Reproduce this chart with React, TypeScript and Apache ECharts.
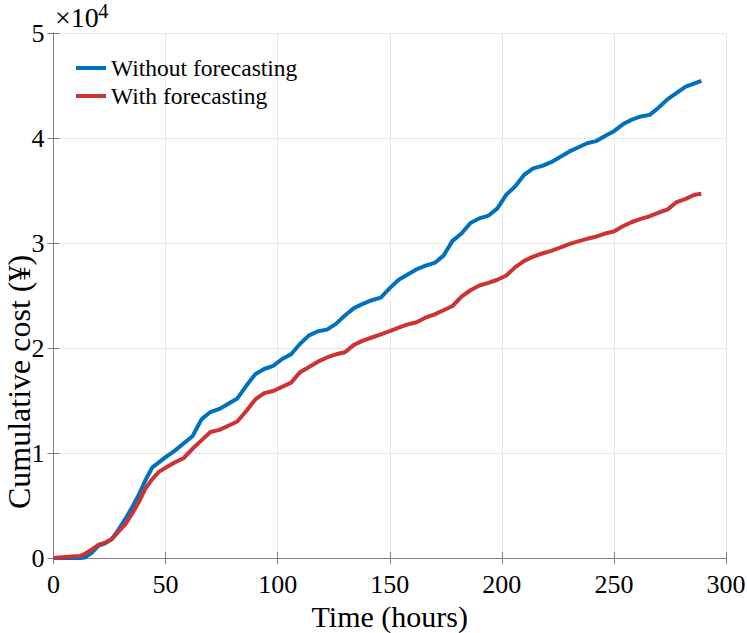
import React, { useEffect, useRef } from "react";
import * as echarts from "echarts";

const hours = [0,4,8,12,14,17,20,23,26,29,32,35,38,41,44,47,50,54,58,62,66,70,74,78,82,86,90,94,98,102,106,110,114,118,122,126,130,134,138,142,146,150,154,158,162,166,170,174,178,182,186,190,194,198,202,206,210,214,218,222,226,230,234,238,242,246,250,254,258,262,266,270,274,278,282,286,289];

const withoutForecasting = [0,0,0,0,50,500,1150,1400,1800,2700,3700,4800,6000,7400,8600,9100,9600,10200,10900,11600,13200,13900,14200,14700,15200,16400,17500,18000,18300,18950,19400,20400,21200,21600,21750,22300,23100,23800,24200,24550,24800,25700,26500,27000,27500,27850,28100,28800,30200,30900,31900,32350,32600,33300,34600,35400,36500,37100,37350,37700,38200,38700,39100,39500,39700,40200,40650,41300,41750,42050,42200,42900,43700,44300,44900,45200,45450];

const withForecasting = [0,80,150,200,400,800,1250,1450,1800,2500,3200,4200,5300,6600,7500,8200,8600,9100,9500,10400,11200,12000,12200,12600,13000,14000,15100,15700,15900,16300,16700,17700,18200,18700,19100,19400,19600,20300,20700,21000,21300,21600,21950,22250,22450,22900,23200,23600,24000,24900,25500,25950,26200,26500,26900,27700,28300,28700,29000,29250,29550,29900,30150,30400,30600,30900,31100,31600,32000,32300,32550,32900,33200,33900,34200,34600,34700];

const seriesNames = ["Without forecasting", "With forecasting"];
const xTicks = [0, 50, 100, 150, 200, 250, 300];
const yTicks = [0, 10000, 20000, 30000, 40000, 50000];
const yAxisTitle = "Cumulative cost (¥)";
const xAxisTitle = "Time (hours)";

const FONT = "Liberation Serif";
const AXIS = "#7f7f7f";

export default function App() {
  const ref = useRef<HTMLDivElement>(null);
  useEffect(() => {
    if (!ref.current) return;
    const chart = echarts.init(ref.current, null, { renderer: "svg" });
    const tickCommon = {
      axisLine: { show: true, lineStyle: { color: AXIS, width: 1 } },
      axisTick: { show: true, inside: true, length: 6, lineStyle: { color: AXIS } },
    };
    chart.setOption({
      animation: false,
      backgroundColor: "#ffffff",
      grid: {
        left: 53.5,
        right: 21,
        top: 33,
        bottom: 75,
        containLabel: false,
        outerBoundsMode: "none",
      },
      legend: {
        show: true,
        data: seriesNames,
        orient: "vertical",
        left: 71,
        top: 51,
        itemWidth: 30,
        itemHeight: 4,
        itemGap: 4,
        icon: "rect",
        textStyle: { fontFamily: FONT, fontSize: 23.5, color: "#000", lineHeight: 24 },
      },
      graphic: [
        {
          type: "text",
          left: 55,
          top: 3,
          style: { text: "×10", fontFamily: FONT, fontSize: 28, fill: "#000" },
        },
        {
          type: "text",
          left: 98,
          top: 0,
          style: { text: "4", fontFamily: FONT, fontSize: 21, fill: "#000" },
        },
        {
          type: "text",
          x: 19,
          y: 382,
          rotation: Math.PI / 2,
          style: {
            text: yAxisTitle,
            fontFamily: FONT,
            fontSize: 32,
            lineHeight: 26,
            fill: "#000",
            align: "center",
            verticalAlign: "middle",
          },
        },
      ],
      xAxis: [
        {
          type: "value",
          min: 0,
          max: 300,
          interval: 50,
          name: xAxisTitle,
          nameLocation: "middle",
          nameGap: 35,
          nameTextStyle: { fontFamily: FONT, fontSize: 30, color: "#000" },
          ...tickCommon,
          axisLabel: {
            fontFamily: FONT,
            fontSize: 26,
            color: "#000",
            margin: 13,
            formatter: (v: number) => (xTicks.includes(v) ? String(v) : ""),
          },
          splitLine: { show: true, lineStyle: { color: "#e8e8e8", width: 1 } },
        },
        {
          type: "value",
          position: "top",
          min: 0,
          max: 300,
          interval: 50,
          ...tickCommon,
          axisLabel: { show: false },
          splitLine: { show: false },
        },
      ],
      yAxis: [
        {
          type: "value",
          min: 0,
          max: 50000,
          interval: 10000,
          ...tickCommon,
          axisLabel: {
            fontFamily: FONT,
            fontSize: 26,
            color: "#000",
            margin: 9,
            formatter: (v: number) => (yTicks.includes(v) ? String(v / 10000) : ""),
          },
          splitLine: { show: true, lineStyle: { color: "#e8e8e8", width: 1 } },
        },
        {
          type: "value",
          position: "right",
          min: 0,
          max: 50000,
          interval: 10000,
          ...tickCommon,
          axisLabel: { show: false },
          splitLine: { show: false },
        },
      ],
      series: [
        {
          name: seriesNames[0],
          type: "line",
          data: hours.map((h, i) => [h, withoutForecasting[i]]),
          showSymbol: false,
          symbol: "none",
          lineStyle: { color: "#0072BD", width: 4 },
          itemStyle: { color: "#0072BD" },
          z: 3,
        },
        {
          name: seriesNames[1],
          type: "line",
          data: hours.map((h, i) => [h, withForecasting[i]]),
          showSymbol: false,
          symbol: "none",
          lineStyle: { color: "#CB3335", width: 4 },
          itemStyle: { color: "#CB3335" },
          z: 4,
        },
      ],
    });
    return () => chart.dispose();
  }, []);
  return (
    <div
      ref={ref}
      style={{ position: "fixed", left: 0, top: 0, width: 747, height: 633 }}
    />
  );
}
